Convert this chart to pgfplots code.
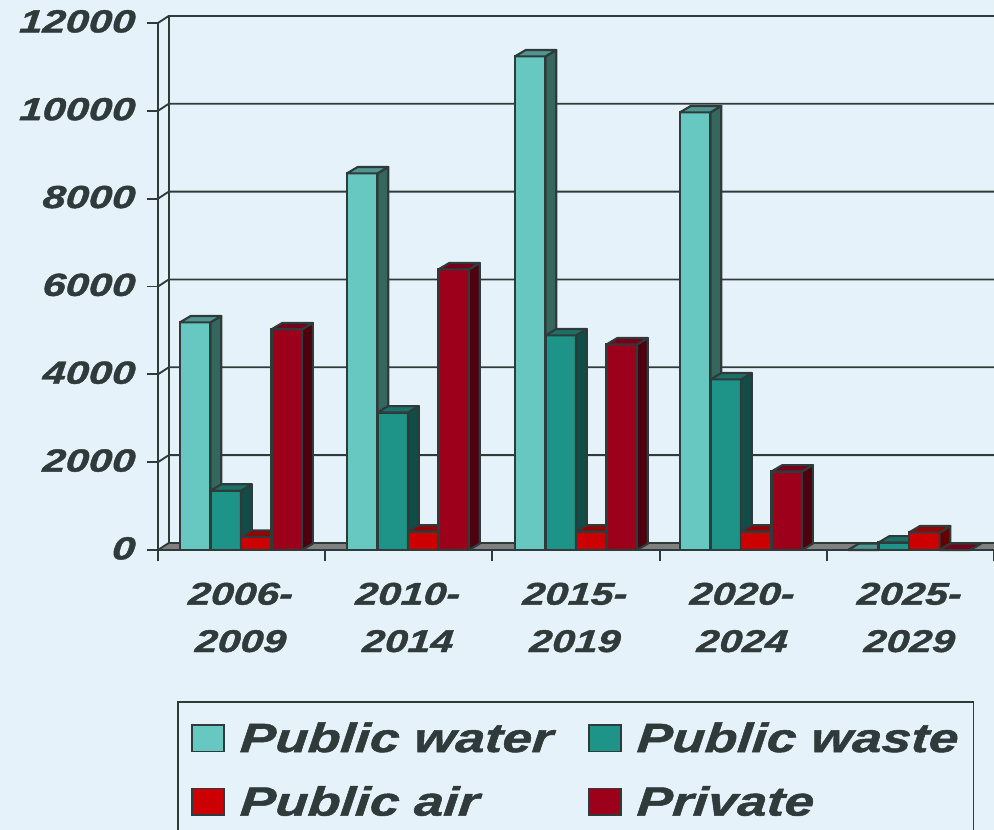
\documentclass[border=0pt]{standalone}
\usepackage{fontspec}
\usepackage{pgfplots}
\pgfplotsset{compat=1.18}
\setmainfont{Liberation Sans}[FakeStretch=1.3,BoldItalicFeatures={FakeBold=1.3,FakeSlant=0.08}]
\definecolor{bg}{HTML}{E6F2F9}
\definecolor{edge}{HTML}{2F3B3B}
\definecolor{floorc}{HTML}{808080}
\definecolor{wf}{HTML}{66C8C0}\definecolor{ws}{HTML}{35675F}\definecolor{wt}{HTML}{4F9690}
\definecolor{tf}{HTML}{1E9488}\definecolor{ts}{HTML}{124C47}\definecolor{tt}{HTML}{1B7068}
\definecolor{af}{HTML}{CC0000}\definecolor{as}{HTML}{660000}\definecolor{at}{HTML}{990000}
\definecolor{pf}{HTML}{9C001B}\definecolor{ps}{HTML}{4E000E}\definecolor{pt}{HTML}{75001A}
\def\bw{0.1825}\def\ddx{0.0645}\def\ddy{145}
% left edge of each group of four bars
\def\gA{0.1316}\def\gB{1.130}\def\gC{2.135}\def\gD{3.122}\def\gE{4.127}
% faces: group left, series index, value, side colour, top colour
\newcommand\faces[5]{%
  \pgfmathsetmacro\xa{#1+#2*\bw}%
  \pgfmathsetmacro\xb{\xa+\bw}%
  \pgfmathsetmacro\xc{\xb+\ddx}%
  \pgfmathsetmacro\xd{\xa+\ddx}%
  \pgfmathsetmacro\vt{#3+\ddy}%
  \edef\tmp{\noexpand\addplot[forget plot,fill=#4,draw=edge,line width=1.6pt,line join=round] coordinates {(\xb,0)(\xc,\ddy)(\xc,\vt)(\xb,#3)} -- cycle;
            \noexpand\addplot[forget plot,fill=#5,draw=edge,line width=1.6pt,line join=round] coordinates {(\xa,#3)(\xb,#3)(\xc,\vt)(\xd,\vt)} -- cycle;}\tmp}
\newcommand\serie[5]{%
  \def\si{#1}\def\cf{#2}\def\cs{#3}\def\ct{#4}\def\vals{#5}%
  \expandafter\serieB\vals\relax}
\def\serieB#1,#2,#3,#4,#5\relax{%
  \pgfmathsetmacro\cA{\gA+2*\bw}\pgfmathsetmacro\cB{\gB+2*\bw}\pgfmathsetmacro\cC{\gC+2*\bw}\pgfmathsetmacro\cD{\gD+2*\bw}\pgfmathsetmacro\cE{\gE+2*\bw}%
  \pgfmathsetmacro\shft{(\si-1.5)*\bw}%
  \edef\tmp{\noexpand\addplot[forget plot,ybar,bar width=\bw,bar shift=\shft,fill=\cf,draw=edge,line width=1.6pt] coordinates {(\cA,#1)(\cB,#2)(\cC,#3)(\cD,#4)(\cE,#5)};}\tmp
  \faces{\gA}{\si}{#1}{\cs}{\ct}\faces{\gB}{\si}{#2}{\cs}{\ct}\faces{\gC}{\si}{#3}{\cs}{\ct}\faces{\gD}{\si}{#4}{\cs}{\ct}\faces{\gE}{\si}{#5}{\cs}{\ct}}
\pgfplotsset{
  swatch/.style={legend image code/.code={\draw[#1,draw=edge,line width=1.3pt] (0pt,-10pt) rectangle (24pt,10pt);}}
}
\begin{document}
\begin{tikzpicture}
\useasboundingbox (0pt,0pt) rectangle (745.5pt,622.5pt);
\fill[bg] (0pt,0pt) rectangle (745.5pt,622.5pt);
\begin{axis}[
  at={(118.5pt,210pt)},anchor=south west,
  scale only axis,width=627pt,height=395.25pt,
  xmin=0,xmax=5,ymin=0,ymax=12000,clip=false,
  axis x line*=bottom,axis y line*=left,
  axis line style={draw=edge,line width=1.4pt,-},
  tick style={draw=edge,line width=1.4pt},
  tick align=outside,
  major tick length=8.5pt,
  xtick={0,1,2,3,4,5},
  xticklabels={},
  ytick={0,2000,4000,6000,8000,10000,12000},
  scaled y ticks=false,
  y tick label style={/pgf/number format/1000 sep={},/pgf/number format/assume math mode=true,
    font=\fontsize{24pt}{24pt}\selectfont\bfseries\itshape,text=edge,yshift=1.2pt,xshift=-5.5pt},
  legend style={at={(0.0227,-0.2865)},anchor=north west,draw=edge,line width=1.2pt,fill=none,
    font=\fontsize{30.6pt}{30.6pt}\selectfont\bfseries\itshape,text=edge,
    legend columns=2,inner xsep=10pt,inner ysep=13.5pt,row sep=20pt,
    /tikz/every even column/.append style={column sep=25pt},
    /tikz/every odd column/.append style={column sep=9pt}},
  legend cell align=left,
]
\addlegendimage{swatch={fill=wf}}\addlegendentry{Public water}
\addlegendimage{swatch={fill=tf}}\addlegendentry{Public waste}
\addlegendimage{swatch={fill=af}}\addlegendentry{Public air}
\addlegendimage{swatch={fill=pf}}\addlegendentry{Private}
% floor
\addplot[forget plot,fill=floorc,draw=edge,line width=1.4pt] coordinates {(0,0)(5.1,0)(5.1,160)(0.0645,160)} -- cycle;
% back wall and grid
\addplot[forget plot,draw=edge,line width=1.4pt] coordinates {(0.0645,160)(0.0645,12160)};
\addplot[forget plot,draw=edge,line width=1.4pt] coordinates {(0,2000)(0.0645,2160)(5.1,2160)};
\addplot[forget plot,draw=edge,line width=1.4pt] coordinates {(0,4000)(0.0645,4160)(5.1,4160)};
\addplot[forget plot,draw=edge,line width=1.4pt] coordinates {(0,6000)(0.0645,6160)(5.1,6160)};
\addplot[forget plot,draw=edge,line width=1.4pt] coordinates {(0,8000)(0.0645,8160)(5.1,8160)};
\addplot[forget plot,draw=edge,line width=1.4pt] coordinates {(0,10000)(0.0645,10160)(5.1,10160)};
\addplot[forget plot,draw=edge,line width=1.4pt] coordinates {(0,12000)(0.0645,12160)(5.1,12160)};
% bars
\serie{0}{wf}{ws}{wt}{5184,8576,11240,9966,0}
\serie{1}{tf}{ts}{tt}{1351,3132,4886,3884,170}
\serie{2}{af}{as}{at}{303,420,420,420,400}
\serie{3}{pf}{ps}{pt}{5025,6390,4681,1788,0}
\end{axis}
\begin{axis}[
  at={(118.5pt,210pt)},anchor=south west,
  scale only axis,width=627pt,height=395.25pt,
  xmin=0,xmax=5,ymin=0,ymax=12000,hide y axis,
  axis x line*=bottom,axis line style={draw=none},
  xtick={0.5,1.5,2.5,3.5,4.5},
  major tick length=0pt,
  xticklabels={2006-\\2009,2010-\\2014,2015-\\2019,2020-\\2024,2025-\\2029},
  x tick label style={align=center,font=\fontsize{23.6pt}{35.5pt}\selectfont\bfseries\itshape,text=edge,yshift=-21pt,
    xshift=-1.2pt},
]
\end{axis}
\end{tikzpicture}
\end{document}
